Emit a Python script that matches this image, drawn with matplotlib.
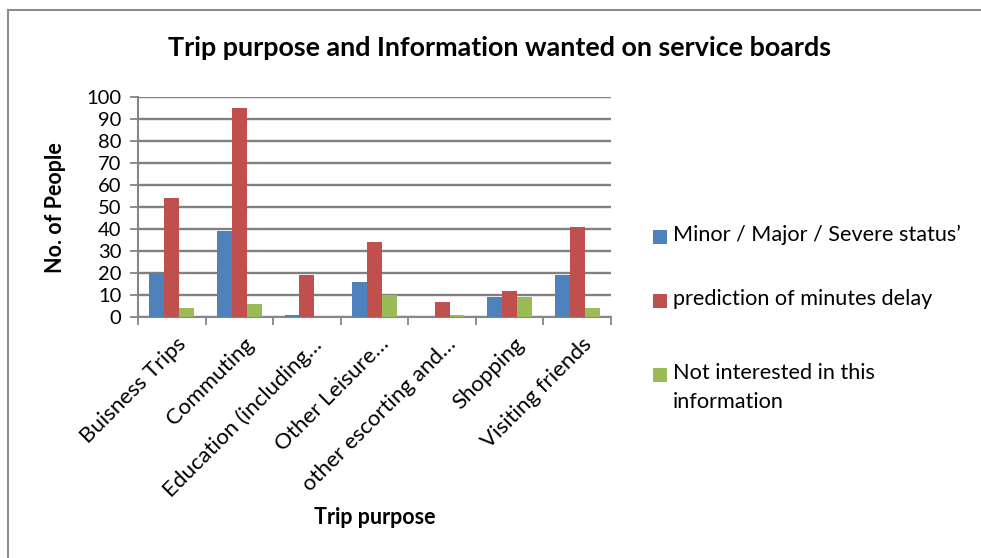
import matplotlib
matplotlib.use("Agg")
import matplotlib.pyplot as plt
from matplotlib.lines import Line2D
from matplotlib.patches import Rectangle
import numpy as np

plt.rcParams['font.family'] = ['Lato', 'DejaVu Sans']

categories = ["Buisness Trips", "Commuting", "Education (including…",
              "Other Leisure…", "other escorting and…", "Shopping",
              "Visiting friends"]
series_names = ["Minor / Major / Severe status’",
                "prediction of minutes delay",
                "Not interested in this\ninformation"]
status_vals = [20, 39, 1, 16, 0, 9, 19]
minutes_vals = [54, 95, 19, 34, 7, 12, 41]
not_interested_vals = [4, 6, 0, 10, 1, 9, 4]
colors = ["#4F81BD", "#C0504D", "#9BBB59"]
y_ticks = list(range(0, 101, 10))

W, H = 981, 558
fig = plt.figure(figsize=(W / 100, H / 100), dpi=100)

# plot area in pixel coordinates
left, right, top, bottom = 138, 611, 97, 317
ax = fig.add_axes([left / W, 1 - bottom / H, (right - left) / W, (bottom - top) / H])

x = np.arange(len(categories))
bw = 0.22
for i, vals in enumerate([status_vals, minutes_vals, not_interested_vals]):
    ax.bar(x + (i - 1) * bw, vals, width=bw, color=colors[i], zorder=3)

ax.set_xlim(-0.5, len(categories) - 0.5)
ax.set_ylim(0, 100)
ax.set_yticks(y_ticks)
ax.tick_params(axis='y', labelsize=14.5, length=6, width=1.3, color='#868686', pad=6)
ax.yaxis.grid(True, color='#808080', linewidth=1.7, zorder=0)
ax.set_axisbelow(True)

# category boundary ticks on x axis
ax.set_xticks(np.arange(-0.5, len(categories)), minor=False)
ax.set_xticklabels([])
ax.tick_params(axis='x', length=6, width=1.3, color='#868686', direction='out')
for i, lab in enumerate(categories):
    ax.annotate(lab, xy=(i, 0), xycoords=('data', 'axes fraction'),
                xytext=(4, -17), textcoords='offset pixels',
                rotation=45, rotation_mode='anchor', ha='right', va='top',
                fontsize=16)

for s in ['top', 'right']:
    ax.spines[s].set_visible(False)
for s in ['left', 'bottom']:
    ax.spines[s].set_color('#868686')
    ax.spines[s].set_linewidth(1.5)

fig.text(500 / W, 1 - 48 / H, "Trip purpose and Information wanted on service boards",
         ha='center', va='center', fontsize=19.4, fontweight='bold')
fig.text(56 / W, 1 - 208 / H, "No. of People", rotation=90, ha='center', va='center',
         fontsize=15.5, fontweight='bold')
fig.text(375 / W, 1 - 517 / H, "Trip purpose", ha='center', va='center',
         fontsize=15.5, fontweight='bold')

# legend entries
legend_y = [237, 301, 375]
for name, c, yy in zip(series_names, colors, legend_y):
    fig.patches.append(Rectangle((653 / W, 1 - (yy + 7) / H), 14 / W, 14 / H,
                                 transform=fig.transFigure, facecolor=c,
                                 edgecolor='none'))
    fig.text(673 / W, 1 - (yy - 12) / H, name, ha='left', va='top', fontsize=15.6,
             linespacing=1.55)

# chart frame
fig.add_artist(Line2D([8 / W, 1], [1 - 10 / H, 1 - 10 / H], color='#8c8c8c',
                      linewidth=1.5, transform=fig.transFigure))
fig.add_artist(Line2D([8 / W, 8 / W], [0, 1 - 10 / H], color='#8c8c8c',
                      linewidth=1.5, transform=fig.transFigure))

fig.savefig("out.png", dpi=100)
